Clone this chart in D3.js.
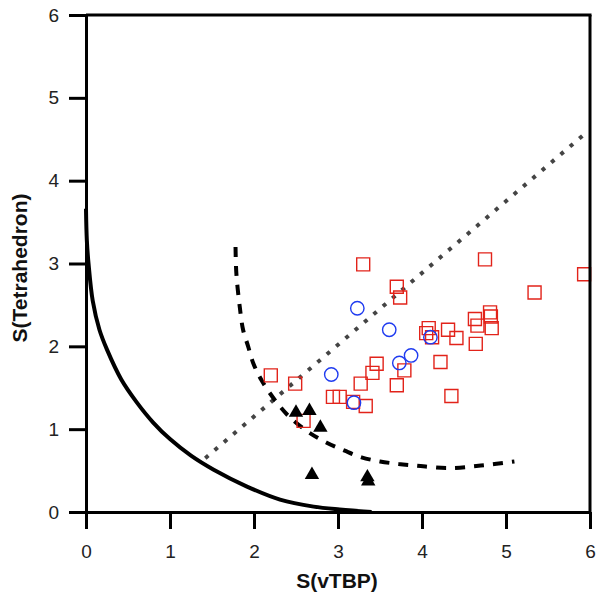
<!DOCTYPE html>
<html><head><meta charset="utf-8">
<script src="https://cdn.jsdelivr.net/npm/d3@7"></script>
<style>body{margin:0;background:#fff}svg{display:block}</style>
</head><body>
<svg id="chart" width="605" height="597"></svg>
<script>
const xTicks = [0, 1, 2, 3, 4, 5, 6];
const yTicks = [0, 1, 2, 3, 4, 5, 6];
const xTitle = "S(vTBP)";
const yTitle = "S(Tetrahedron)";

const squaresX = [2.20, 2.49, 2.59, 2.94, 3.02, 3.30, 3.18, 3.33, 3.27, 3.41, 3.46, 3.70, 3.74, 3.70, 3.79, 4.05, 4.08, 4.12, 4.22, 4.31, 4.35, 4.41, 4.63, 4.66, 4.64, 4.75, 4.81, 4.82, 4.83, 5.34, 5.93];
const squaresY = [1.65, 1.55, 1.10, 1.39, 1.39, 2.99, 1.33, 1.28, 1.55, 1.68, 1.79, 2.72, 2.59, 1.53, 1.71, 2.16, 2.22, 2.11, 1.81, 2.20, 1.40, 2.10, 2.33, 2.25, 2.03, 3.05, 2.41, 2.36, 2.22, 2.65, 2.87];

const circlesX = [3.23, 3.61, 4.10, 3.87, 3.73, 2.92, 3.19];
const circlesY = [2.46, 2.20, 2.11, 1.89, 1.80, 1.66, 1.32];

const trianglesX = [2.50, 2.66, 2.79, 2.69, 3.35, 3.36];
const trianglesY = [1.20, 1.22, 1.02, 0.45, 0.42, 0.37];

const solidX = [0, 0.01, 0.03, 0.08, 0.16, 0.25, 0.42, 0.6, 0.8, 1.0, 1.25, 1.52, 1.91, 2.31, 2.71, 3.02, 3.4];
const solidY = [3.66, 3.28, 3.0, 2.55, 2.2, 1.96, 1.6, 1.33, 1.08, 0.88, 0.68, 0.51, 0.31, 0.15, 0.065, 0.03, 0];

const dashX = [1.78, 1.79, 1.83, 1.87, 1.93, 1.99, 2.09, 2.25, 2.41, 2.64, 2.86, 3.08, 3.28, 3.50, 3.72, 3.94, 4.3, 4.7, 5.1];
const dashY = [3.20, 2.88, 2.48, 2.20, 2.0, 1.80, 1.59, 1.35, 1.16, 0.97, 0.84, 0.74, 0.66, 0.61, 0.58, 0.56, 0.53, 0.56, 0.61];

const dotX = [1.42, 5.92];
const dotY = [0.65, 4.55];

const svg = d3.select("#chart");
const x = d3.scaleLinear().domain([0, 6]).range([86, 590]);
const y = d3.scaleLinear().domain([0, 6]).range([512, 15]);
const font = "'Liberation Sans', Arial, Helvetica, sans-serif";

// dotted line
svg.append("path")
  .datum(dotX.map((d, i) => [d, dotY[i]]))
  .attr("d", d3.line().x(d => x(d[0])).y(d => y(d[1])))
  .attr("fill", "none").attr("stroke", "#444").attr("stroke-width", 4)
  .attr("stroke-dasharray", "4,8.3");

// dashed curve
svg.append("path")
  .datum(dashX.map((d, i) => [d, dashY[i]]))
  .attr("d", d3.line().curve(d3.curveCatmullRom.alpha(0.5)).x(d => x(d[0])).y(d => y(d[1])))
  .attr("fill", "none").attr("stroke", "#000").attr("stroke-width", 4)
  .attr("stroke-dasharray", "10,9");

// solid curve
svg.append("path")
  .datum(solidX.map((d, i) => [d, solidY[i]]))
  .attr("d", d3.line().curve(d3.curveCatmullRom.alpha(0.5)).x(d => x(d[0])).y(d => y(d[1])))
  .attr("fill", "none").attr("stroke", "#000").attr("stroke-width", 4);

// squares
svg.append("g").selectAll("path").data(squaresX.map((d, i) => [d, squaresY[i]])).join("path")
  .attr("d", d3.symbol(d3.symbolSquare, 169))
  .attr("transform", d => `translate(${x(d[0])},${y(d[1])})`)
  .attr("fill", "none").attr("stroke", "#e2231a").attr("stroke-width", 1.4);

// circles
svg.append("g").selectAll("circle").data(circlesX.map((d, i) => [d, circlesY[i]])).join("circle")
  .attr("cx", d => x(d[0])).attr("cy", d => y(d[1])).attr("r", 6.7)
  .attr("fill", "none").attr("stroke", "#1f3bf0").attr("stroke-width", 1.4);

// triangles
svg.append("g").selectAll("path").data(trianglesX.map((d, i) => [d, trianglesY[i]])).join("path")
  .attr("d", d3.symbol(d3.symbolTriangle, 90))
  .attr("transform", d => `translate(${x(d[0])},${y(d[1])})`)
  .attr("fill", "#000");

// axes
const fmt = d3.format("d");
const gx = svg.append("g").attr("transform", `translate(0,${y(0)})`)
  .call(d3.axisBottom(x).tickValues(xTicks).tickFormat(fmt).tickSize(17).tickSizeOuter(0).tickPadding(16));
const gy = svg.append("g").attr("transform", `translate(${x(0)},0)`)
  .call(d3.axisLeft(y).tickValues(yTicks).tickFormat(fmt).tickSize(17).tickSizeOuter(0).tickPadding(10));
[gx, gy].forEach(g => {
  g.selectAll(".domain").attr("stroke", "#000").attr("stroke-width", 3);
  g.selectAll(".tick line").attr("stroke", "#000").attr("stroke-width", 3);
  g.selectAll(".tick text").attr("font-family", font).attr("font-size", 19).attr("fill", "#222");
});
// frame top and right
svg.append("line").attr("x1", x(0)).attr("x2", x(6)+1.5).attr("y1", y(6)).attr("y2", y(6))
  .attr("stroke", "#000").attr("stroke-width", 3);
svg.append("line").attr("x1", x(6)).attr("x2", x(6)).attr("y1", y(6)).attr("y2", y(0))
  .attr("stroke", "#000").attr("stroke-width", 3);

// titles
svg.append("text").attr("x", 337).attr("y", 588).attr("text-anchor", "middle")
  .attr("font-family", font).attr("font-weight", "bold").attr("font-size", 21).attr("fill", "#111")
  .text(xTitle);
svg.append("text").attr("transform", "translate(27,268) rotate(-90)").attr("text-anchor", "middle")
  .attr("font-family", font).attr("font-weight", "bold").attr("font-size", 21).attr("fill", "#111")
  .text(yTitle);
</script>
</body></html>
